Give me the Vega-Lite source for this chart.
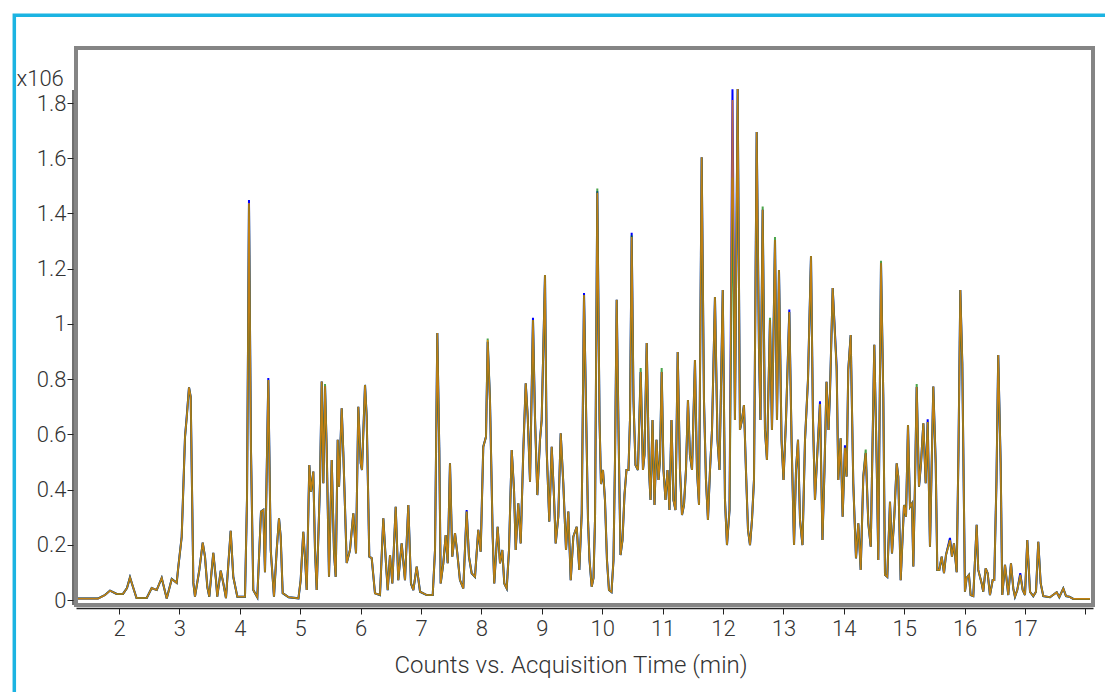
{
"$schema": "https://vega.github.io/schema/vega-lite/v6.json",
"width": 1017, "height": 557,
"autosize": {"type": "none"},
"padding": {"left": 76, "top": 48, "right": 12, "bottom": 87},
"background": "white",
"config": {"view": {"stroke": "#858585", "strokeWidth": 4}, "font": "Roboto"},
"data": {"values": [
{"t":1.321,"b":0.005,"g":0.005,"o":0.005},
{"t":1.652,"b":0.005,"g":0.005,"o":0.005},
{"t":1.714,"b":0.012,"g":0.012,"o":0.012},
{"t":1.768,"b":0.018,"g":0.018,"o":0.018},
{"t":1.851,"b":0.034,"g":0.034,"o":0.034},
{"t":1.962,"b":0.022,"g":0.022,"o":0.022},
{"t":2.066,"b":0.022,"g":0.022,"o":0.022},
{"t":2.132,"b":0.043,"g":0.043,"o":0.043},
{"t":2.182,"b":0.082,"g":0.082,"o":0.082},
{"t":2.232,"b":0.047,"g":0.047,"o":0.047},
{"t":2.290,"b":0.007,"g":0.007,"o":0.007},
{"t":2.459,"b":0.007,"g":0.007,"o":0.007},
{"t":2.541,"b":0.043,"g":0.043,"o":0.043},
{"t":2.624,"b":0.036,"g":0.036,"o":0.036},
{"t":2.707,"b":0.080,"g":0.080,"o":0.080},
{"t":2.790,"b":0.005,"g":0.005,"o":0.005},
{"t":2.873,"b":0.076,"g":0.076,"o":0.076},
{"t":2.955,"b":0.062,"g":0.062,"o":0.062},
{"t":2.982,"b":0.120,"g":0.120,"o":0.120},
{"t":3.038,"b":0.229,"g":0.229,"o":0.229},
{"t":3.093,"b":0.591,"g":0.591,"o":0.591},
{"t":3.121,"b":0.664,"g":0.660,"o":0.660},
{"t":3.159,"b":0.770,"g":0.770,"o":0.770},
{"t":3.187,"b":0.736,"g":0.736,"o":0.736},
{"t":3.231,"b":0.062,"g":0.062,"o":0.062},
{"t":3.258,"b":0.012,"g":0.012,"o":0.012},
{"t":3.330,"b":0.109,"g":0.109,"o":0.109},
{"t":3.386,"b":0.208,"g":0.208,"o":0.208},
{"t":3.424,"b":0.156,"g":0.156,"o":0.156},
{"t":3.462,"b":0.048,"g":0.048,"o":0.048},
{"t":3.495,"b":0.012,"g":0.012,"o":0.012},
{"t":3.561,"b":0.171,"g":0.171,"o":0.171},
{"t":3.606,"b":0.072,"g":0.072,"o":0.072},
{"t":3.627,"b":0.012,"g":0.012,"o":0.012},
{"t":3.684,"b":0.106,"g":0.106,"o":0.106},
{"t":3.726,"b":0.062,"g":0.062,"o":0.062},
{"t":3.771,"b":0.007,"g":0.007,"o":0.007},
{"t":3.849,"b":0.251,"g":0.251,"o":0.251},
{"t":3.892,"b":0.084,"g":0.084,"o":0.084},
{"t":3.959,"b":0.012,"g":0.012,"o":0.012},
{"t":4.086,"b":0.012,"g":0.012,"o":0.012},
{"t":4.119,"b":0.362,"g":0.362,"o":0.362},
{"t":4.152,"b":1.449,"g":1.435,"o":1.438},
{"t":4.185,"b":0.543,"g":0.543,"o":0.543},
{"t":4.223,"b":0.036,"g":0.036,"o":0.036},
{"t":4.290,"b":0.010,"g":0.010,"o":0.010},
{"t":4.351,"b":0.320,"g":0.320,"o":0.320},
{"t":4.389,"b":0.326,"g":0.326,"o":0.326},
{"t":4.417,"b":0.101,"g":0.101,"o":0.101},
{"t":4.472,"b":0.804,"g":0.797,"o":0.797},
{"t":4.512,"b":0.181,"g":0.181,"o":0.181},
{"t":4.566,"b":0.012,"g":0.012,"o":0.012},
{"t":4.611,"b":0.181,"g":0.181,"o":0.181},
{"t":4.649,"b":0.296,"g":0.296,"o":0.296},
{"t":4.677,"b":0.229,"g":0.229,"o":0.229},
{"t":4.710,"b":0.025,"g":0.025,"o":0.025},
{"t":4.809,"b":0.010,"g":0.010,"o":0.010},
{"t":4.971,"b":0.006,"g":0.006,"o":0.006},
{"t":5.008,"b":0.072,"g":0.072,"o":0.072},
{"t":5.051,"b":0.247,"g":0.247,"o":0.247},
{"t":5.085,"b":0.134,"g":0.134,"o":0.134},
{"t":5.108,"b":0.036,"g":0.036,"o":0.036},
{"t":5.151,"b":0.489,"g":0.489,"o":0.489},
{"t":5.179,"b":0.392,"g":0.392,"o":0.392},
{"t":5.217,"b":0.465,"g":0.465,"o":0.465},
{"t":5.245,"b":0.181,"g":0.181,"o":0.181},
{"t":5.273,"b":0.036,"g":0.036,"o":0.036},
{"t":5.328,"b":0.424,"g":0.424,"o":0.424},
{"t":5.356,"b":0.791,"g":0.791,"o":0.791},
{"t":5.383,"b":0.423,"g":0.423,"o":0.423},
{"t":5.411,"b":0.775,"g":0.782,"o":0.775},
{"t":5.439,"b":0.543,"g":0.543,"o":0.543},
{"t":5.477,"b":0.084,"g":0.084,"o":0.084},
{"t":5.522,"b":0.507,"g":0.507,"o":0.507},
{"t":5.560,"b":0.170,"g":0.170,"o":0.170},
{"t":5.588,"b":0.084,"g":0.084,"o":0.084},
{"t":5.621,"b":0.580,"g":0.580,"o":0.580},
{"t":5.643,"b":0.410,"g":0.410,"o":0.410},
{"t":5.687,"b":0.694,"g":0.694,"o":0.694},
{"t":5.714,"b":0.532,"g":0.532,"o":0.532},
{"t":5.770,"b":0.134,"g":0.134,"o":0.134},
{"t":5.824,"b":0.181,"g":0.181,"o":0.181},
{"t":5.879,"b":0.314,"g":0.314,"o":0.314},
{"t":5.924,"b":0.169,"g":0.169,"o":0.169},
{"t":5.962,"b":0.700,"g":0.700,"o":0.700},
{"t":6.002,"b":0.495,"g":0.495,"o":0.495},
{"t":6.023,"b":0.471,"g":0.471,"o":0.471},
{"t":6.073,"b":0.779,"g":0.779,"o":0.779},
{"t":6.101,"b":0.664,"g":0.664,"o":0.664},
{"t":6.144,"b":0.157,"g":0.157,"o":0.157},
{"t":6.184,"b":0.152,"g":0.152,"o":0.152},
{"t":6.238,"b":0.024,"g":0.024,"o":0.024},
{"t":6.321,"b":0.018,"g":0.018,"o":0.018},
{"t":6.376,"b":0.296,"g":0.296,"o":0.296},
{"t":6.420,"b":0.133,"g":0.133,"o":0.133},
{"t":6.449,"b":0.036,"g":0.036,"o":0.036},
{"t":6.487,"b":0.163,"g":0.163,"o":0.163},
{"t":6.525,"b":0.060,"g":0.060,"o":0.060},
{"t":6.581,"b":0.338,"g":0.338,"o":0.338},
{"t":6.624,"b":0.072,"g":0.072,"o":0.072},
{"t":6.680,"b":0.205,"g":0.205,"o":0.205},
{"t":6.735,"b":0.072,"g":0.072,"o":0.072},
{"t":6.790,"b":0.344,"g":0.344,"o":0.344},
{"t":6.834,"b":0.060,"g":0.060,"o":0.060},
{"t":6.873,"b":0.036,"g":0.036,"o":0.036},
{"t":6.929,"b":0.121,"g":0.121,"o":0.121},
{"t":6.984,"b":0.030,"g":0.030,"o":0.030},
{"t":7.095,"b":0.018,"g":0.018,"o":0.018},
{"t":7.194,"b":0.018,"g":0.018,"o":0.018},
{"t":7.232,"b":0.181,"g":0.181,"o":0.181},
{"t":7.270,"b":0.967,"g":0.967,"o":0.967},
{"t":7.303,"b":0.543,"g":0.543,"o":0.543},
{"t":7.326,"b":0.060,"g":0.060,"o":0.060},
{"t":7.369,"b":0.133,"g":0.133,"o":0.133},
{"t":7.409,"b":0.235,"g":0.235,"o":0.235},
{"t":7.442,"b":0.133,"g":0.133,"o":0.133},
{"t":7.480,"b":0.495,"g":0.495,"o":0.495},
{"t":7.518,"b":0.157,"g":0.157,"o":0.157},
{"t":7.563,"b":0.242,"g":0.242,"o":0.242},
{"t":7.601,"b":0.169,"g":0.169,"o":0.169},
{"t":7.645,"b":0.072,"g":0.072,"o":0.072},
{"t":7.700,"b":0.042,"g":0.042,"o":0.042},
{"t":7.756,"b":0.326,"g":0.320,"o":0.320},
{"t":7.794,"b":0.157,"g":0.157,"o":0.157},
{"t":7.839,"b":0.097,"g":0.097,"o":0.097},
{"t":7.894,"b":0.084,"g":0.084,"o":0.084},
{"t":7.948,"b":0.254,"g":0.254,"o":0.254},
{"t":7.988,"b":0.175,"g":0.175,"o":0.175},
{"t":8.031,"b":0.555,"g":0.555,"o":0.555},
{"t":8.076,"b":0.591,"g":0.591,"o":0.591},
{"t":8.104,"b":0.935,"g":0.947,"o":0.942},
{"t":8.142,"b":0.724,"g":0.724,"o":0.724},
{"t":8.187,"b":0.229,"g":0.229,"o":0.229},
{"t":8.213,"b":0.060,"g":0.060,"o":0.060},
{"t":8.269,"b":0.265,"g":0.265,"o":0.265},
{"t":8.308,"b":0.133,"g":0.133,"o":0.133},
{"t":8.346,"b":0.181,"g":0.181,"o":0.181},
{"t":8.379,"b":0.060,"g":0.060,"o":0.060},
{"t":8.419,"b":0.042,"g":0.042,"o":0.042},
{"t":8.457,"b":0.181,"g":0.181,"o":0.181},
{"t":8.502,"b":0.543,"g":0.543,"o":0.543},
{"t":8.540,"b":0.398,"g":0.398,"o":0.398},
{"t":8.568,"b":0.181,"g":0.181,"o":0.181},
{"t":8.611,"b":0.350,"g":0.350,"o":0.350},
{"t":8.651,"b":0.205,"g":0.205,"o":0.205},
{"t":8.694,"b":0.543,"g":0.543,"o":0.543},
{"t":8.734,"b":0.785,"g":0.785,"o":0.785},
{"t":8.767,"b":0.664,"g":0.664,"o":0.664},
{"t":8.805,"b":0.428,"g":0.428,"o":0.428},
{"t":8.854,"b":1.022,"g":1.014,"o":1.014},
{"t":8.887,"b":0.664,"g":0.664,"o":0.664},
{"t":8.926,"b":0.380,"g":0.380,"o":0.380},
{"t":8.970,"b":0.580,"g":0.580,"o":0.580},
{"t":8.998,"b":0.652,"g":0.652,"o":0.652},
{"t":9.053,"b":1.177,"g":1.177,"o":1.177},
{"t":9.081,"b":0.543,"g":0.543,"o":0.543},
{"t":9.124,"b":0.284,"g":0.284,"o":0.284},
{"t":9.164,"b":0.555,"g":0.555,"o":0.555},
{"t":9.202,"b":0.374,"g":0.374,"o":0.374},
{"t":9.230,"b":0.205,"g":0.205,"o":0.205},
{"t":9.273,"b":0.302,"g":0.302,"o":0.302},
{"t":9.313,"b":0.604,"g":0.604,"o":0.604},
{"t":9.356,"b":0.423,"g":0.423,"o":0.423},
{"t":9.401,"b":0.181,"g":0.181,"o":0.181},
{"t":9.439,"b":0.320,"g":0.320,"o":0.320},
{"t":9.479,"b":0.072,"g":0.072,"o":0.072},
{"t":9.522,"b":0.229,"g":0.229,"o":0.229},
{"t":9.578,"b":0.265,"g":0.265,"o":0.265},
{"t":9.621,"b":0.109,"g":0.109,"o":0.109},
{"t":9.661,"b":0.314,"g":0.314,"o":0.314},
{"t":9.699,"b":1.112,"g":1.105,"o":1.105},
{"t":9.765,"b":0.290,"g":0.290,"o":0.290},
{"t":9.790,"b":0.145,"g":0.145,"o":0.145},
{"t":9.826,"b":0.048,"g":0.048,"o":0.048},
{"t":9.856,"b":0.080,"g":0.080,"o":0.080},
{"t":9.881,"b":0.290,"g":0.290,"o":0.290},
{"t":9.919,"b":1.480,"g":1.490,"o":1.475},
{"t":9.956,"b":0.652,"g":0.652,"o":0.652},
{"t":9.980,"b":0.420,"g":0.420,"o":0.420},
{"t":10.013,"b":0.471,"g":0.471,"o":0.471},
{"t":10.046,"b":0.362,"g":0.362,"o":0.362},
{"t":10.079,"b":0.145,"g":0.145,"o":0.145},
{"t":10.112,"b":0.036,"g":0.036,"o":0.036},
{"t":10.154,"b":0.029,"g":0.029,"o":0.029},
{"t":10.187,"b":0.145,"g":0.145,"o":0.145},
{"t":10.212,"b":0.507,"g":0.507,"o":0.507},
{"t":10.240,"b":1.087,"g":1.087,"o":1.087},
{"t":10.270,"b":0.616,"g":0.616,"o":0.616},
{"t":10.303,"b":0.163,"g":0.163,"o":0.163},
{"t":10.336,"b":0.217,"g":0.217,"o":0.217},
{"t":10.369,"b":0.380,"g":0.380,"o":0.380},
{"t":10.402,"b":0.471,"g":0.471,"o":0.471},
{"t":10.435,"b":0.471,"g":0.471,"o":0.471},
{"t":10.460,"b":0.652,"g":0.652,"o":0.652},
{"t":10.488,"b":1.330,"g":1.320,"o":1.315},
{"t":10.518,"b":0.724,"g":0.724,"o":0.724},
{"t":10.551,"b":0.489,"g":0.489,"o":0.489},
{"t":10.592,"b":0.471,"g":0.471,"o":0.471},
{"t":10.637,"b":0.826,"g":0.840,"o":0.826},
{"t":10.675,"b":0.471,"g":0.471,"o":0.471},
{"t":10.700,"b":0.525,"g":0.525,"o":0.525},
{"t":10.737,"b":0.931,"g":0.931,"o":0.931},
{"t":10.775,"b":0.471,"g":0.471,"o":0.471},
{"t":10.800,"b":0.362,"g":0.362,"o":0.362},
{"t":10.833,"b":0.652,"g":0.652,"o":0.652},
{"t":10.866,"b":0.344,"g":0.344,"o":0.344},
{"t":10.899,"b":0.580,"g":0.580,"o":0.580},
{"t":10.932,"b":0.435,"g":0.435,"o":0.435},
{"t":10.957,"b":0.507,"g":0.507,"o":0.507},
{"t":10.985,"b":0.826,"g":0.840,"o":0.826},
{"t":11.015,"b":0.471,"g":0.471,"o":0.471},
{"t":11.048,"b":0.362,"g":0.362,"o":0.362},
{"t":11.081,"b":0.471,"g":0.471,"o":0.471},
{"t":11.114,"b":0.326,"g":0.326,"o":0.326},
{"t":11.147,"b":0.652,"g":0.652,"o":0.652},
{"t":11.180,"b":0.362,"g":0.362,"o":0.362},
{"t":11.213,"b":0.326,"g":0.326,"o":0.326},
{"t":11.250,"b":0.898,"g":0.898,"o":0.898},
{"t":11.288,"b":0.471,"g":0.471,"o":0.471},
{"t":11.321,"b":0.308,"g":0.308,"o":0.308},
{"t":11.354,"b":0.344,"g":0.344,"o":0.344},
{"t":11.387,"b":0.471,"g":0.471,"o":0.471},
{"t":11.420,"b":0.724,"g":0.724,"o":0.724},
{"t":11.453,"b":0.525,"g":0.525,"o":0.525},
{"t":11.487,"b":0.471,"g":0.471,"o":0.471},
{"t":11.536,"b":0.869,"g":0.869,"o":0.869},
{"t":11.569,"b":0.471,"g":0.471,"o":0.471},
{"t":11.603,"b":0.344,"g":0.344,"o":0.344},
{"t":11.647,"b":1.604,"g":1.604,"o":1.604},
{"t":11.685,"b":0.724,"g":0.724,"o":0.724},
{"t":11.718,"b":0.435,"g":0.435,"o":0.435},
{"t":11.751,"b":0.290,"g":0.290,"o":0.290},
{"t":11.785,"b":0.471,"g":0.471,"o":0.471},
{"t":11.818,"b":0.616,"g":0.616,"o":0.616},
{"t":11.867,"b":1.097,"g":1.097,"o":1.097},
{"t":11.909,"b":0.580,"g":0.580,"o":0.580},
{"t":11.942,"b":0.471,"g":0.471,"o":0.471},
{"t":11.996,"b":1.123,"g":1.123,"o":1.123},
{"t":12.033,"b":0.362,"g":0.362,"o":0.362},
{"t":12.066,"b":0.199,"g":0.199,"o":0.199},
{"t":12.108,"b":0.326,"g":0.326,"o":0.326},
{"t":12.157,"b":1.850,"g":1.530,"o":1.811},
{"t":12.198,"b":0.652,"g":0.652,"o":0.652},
{"t":12.243,"b":1.851,"g":1.851,"o":1.851},
{"t":12.281,"b":0.616,"g":0.616,"o":0.616},
{"t":12.314,"b":0.652,"g":0.652,"o":0.652},
{"t":12.347,"b":0.706,"g":0.706,"o":0.706},
{"t":12.380,"b":0.471,"g":0.471,"o":0.471},
{"t":12.414,"b":0.254,"g":0.254,"o":0.254},
{"t":12.447,"b":0.199,"g":0.199,"o":0.199},
{"t":12.480,"b":0.290,"g":0.290,"o":0.290},
{"t":12.513,"b":0.435,"g":0.435,"o":0.435},
{"t":12.558,"b":1.695,"g":1.695,"o":1.695},
{"t":12.596,"b":0.905,"g":0.905,"o":0.905},
{"t":12.620,"b":0.652,"g":0.652,"o":0.652},
{"t":12.657,"b":1.413,"g":1.425,"o":1.413},
{"t":12.695,"b":0.616,"g":0.616,"o":0.616},
{"t":12.728,"b":0.507,"g":0.507,"o":0.507},
{"t":12.778,"b":1.014,"g":1.022,"o":1.014},
{"t":12.811,"b":0.616,"g":0.616,"o":0.616},
{"t":12.861,"b":1.304,"g":1.315,"o":1.304},
{"t":12.894,"b":0.652,"g":0.652,"o":0.652},
{"t":12.927,"b":1.195,"g":1.195,"o":1.195},
{"t":12.969,"b":0.580,"g":0.580,"o":0.580},
{"t":13.002,"b":0.435,"g":0.435,"o":0.435},
{"t":13.043,"b":0.652,"g":0.652,"o":0.652},
{"t":13.098,"b":1.052,"g":1.043,"o":1.043},
{"t":13.135,"b":0.580,"g":0.580,"o":0.580},
{"t":13.176,"b":0.199,"g":0.199,"o":0.199},
{"t":13.209,"b":0.471,"g":0.471,"o":0.471},
{"t":13.242,"b":0.580,"g":0.580,"o":0.580},
{"t":13.275,"b":0.290,"g":0.290,"o":0.290},
{"t":13.316,"b":0.199,"g":0.199,"o":0.199},
{"t":13.358,"b":0.580,"g":0.580,"o":0.580},
{"t":13.407,"b":0.797,"g":0.797,"o":0.797},
{"t":13.457,"b":1.246,"g":1.246,"o":1.246},
{"t":13.490,"b":0.652,"g":0.652,"o":0.652},
{"t":13.523,"b":0.362,"g":0.362,"o":0.362},
{"t":13.556,"b":0.507,"g":0.507,"o":0.507},
{"t":13.606,"b":0.720,"g":0.710,"o":0.710},
{"t":13.647,"b":0.217,"g":0.217,"o":0.217},
{"t":13.680,"b":0.471,"g":0.471,"o":0.471},
{"t":13.714,"b":0.790,"g":0.790,"o":0.790},
{"t":13.747,"b":0.616,"g":0.616,"o":0.616},
{"t":13.771,"b":0.750,"g":0.750,"o":0.750},
{"t":13.816,"b":1.130,"g":1.130,"o":1.130},
{"t":13.882,"b":0.845,"g":0.833,"o":0.833},
{"t":13.909,"b":0.435,"g":0.435,"o":0.435},
{"t":13.948,"b":0.586,"g":0.586,"o":0.586},
{"t":13.981,"b":0.302,"g":0.302,"o":0.302},
{"t":14.019,"b":0.560,"g":0.551,"o":0.551},
{"t":14.047,"b":0.447,"g":0.447,"o":0.447},
{"t":14.074,"b":0.833,"g":0.833,"o":0.833},
{"t":14.114,"b":0.960,"g":0.960,"o":0.960},
{"t":14.157,"b":0.423,"g":0.423,"o":0.423},
{"t":14.202,"b":0.151,"g":0.151,"o":0.151},
{"t":14.240,"b":0.278,"g":0.278,"o":0.278},
{"t":14.280,"b":0.109,"g":0.109,"o":0.109},
{"t":14.323,"b":0.447,"g":0.447,"o":0.447},
{"t":14.363,"b":0.532,"g":0.545,"o":0.532},
{"t":14.406,"b":0.278,"g":0.278,"o":0.278},
{"t":14.446,"b":0.193,"g":0.193,"o":0.193},
{"t":14.505,"b":0.924,"g":0.924,"o":0.924},
{"t":14.545,"b":0.495,"g":0.495,"o":0.495},
{"t":14.571,"b":0.145,"g":0.145,"o":0.145},
{"t":14.616,"b":1.221,"g":1.229,"o":1.221},
{"t":14.654,"b":0.736,"g":0.736,"o":0.736},
{"t":14.682,"b":0.091,"g":0.091,"o":0.091},
{"t":14.720,"b":0.084,"g":0.084,"o":0.084},
{"t":14.765,"b":0.356,"g":0.356,"o":0.356},
{"t":14.798,"b":0.169,"g":0.169,"o":0.169},
{"t":14.836,"b":0.302,"g":0.302,"o":0.302},
{"t":14.876,"b":0.495,"g":0.495,"o":0.495},
{"t":14.902,"b":0.447,"g":0.447,"o":0.447},
{"t":14.942,"b":0.072,"g":0.072,"o":0.072},
{"t":14.997,"b":0.344,"g":0.344,"o":0.344},
{"t":15.030,"b":0.302,"g":0.302,"o":0.302},
{"t":15.063,"b":0.634,"g":0.634,"o":0.634},
{"t":15.096,"b":0.338,"g":0.338,"o":0.338},
{"t":15.129,"b":0.350,"g":0.350,"o":0.350},
{"t":15.151,"b":0.121,"g":0.121,"o":0.121},
{"t":15.179,"b":0.423,"g":0.423,"o":0.423},
{"t":15.207,"b":0.771,"g":0.782,"o":0.771},
{"t":15.245,"b":0.410,"g":0.410,"o":0.410},
{"t":15.278,"b":0.495,"g":0.495,"o":0.495},
{"t":15.317,"b":0.640,"g":0.640,"o":0.640},
{"t":15.356,"b":0.423,"g":0.423,"o":0.423},
{"t":15.389,"b":0.655,"g":0.645,"o":0.645},
{"t":15.427,"b":0.193,"g":0.193,"o":0.193},
{"t":15.482,"b":0.773,"g":0.773,"o":0.773},
{"t":15.522,"b":0.495,"g":0.495,"o":0.495},
{"t":15.548,"b":0.109,"g":0.109,"o":0.109},
{"t":15.581,"b":0.109,"g":0.109,"o":0.109},
{"t":15.621,"b":0.157,"g":0.157,"o":0.157},
{"t":15.659,"b":0.097,"g":0.097,"o":0.097},
{"t":15.692,"b":0.163,"g":0.163,"o":0.163},
{"t":15.758,"b":0.225,"g":0.217,"o":0.217},
{"t":15.791,"b":0.157,"g":0.157,"o":0.157},
{"t":15.824,"b":0.205,"g":0.205,"o":0.205},
{"t":15.869,"b":0.101,"g":0.101,"o":0.101},
{"t":15.899,"b":0.543,"g":0.543,"o":0.543},
{"t":15.929,"b":1.123,"g":1.123,"o":1.123},
{"t":15.962,"b":0.857,"g":0.857,"o":0.857},
{"t":16.006,"b":0.030,"g":0.030,"o":0.030},
{"t":16.034,"b":0.080,"g":0.080,"o":0.080},
{"t":16.072,"b":0.091,"g":0.091,"o":0.091},
{"t":16.100,"b":0.018,"g":0.018,"o":0.018},
{"t":16.144,"b":0.014,"g":0.014,"o":0.014},
{"t":16.200,"b":0.272,"g":0.272,"o":0.272},
{"t":16.226,"b":0.109,"g":0.109,"o":0.109},
{"t":16.283,"b":0.060,"g":0.060,"o":0.060},
{"t":16.309,"b":0.030,"g":0.030,"o":0.030},
{"t":16.349,"b":0.115,"g":0.115,"o":0.115},
{"t":16.382,"b":0.097,"g":0.097,"o":0.097},
{"t":16.420,"b":0.018,"g":0.018,"o":0.018},
{"t":16.465,"b":0.072,"g":0.072,"o":0.072},
{"t":16.491,"b":0.072,"g":0.072,"o":0.072},
{"t":16.528,"b":0.435,"g":0.435,"o":0.435},
{"t":16.557,"b":0.887,"g":0.887,"o":0.887},
{"t":16.597,"b":0.495,"g":0.495,"o":0.495},
{"t":16.624,"b":0.018,"g":0.018,"o":0.018},
{"t":16.669,"b":0.127,"g":0.127,"o":0.127},
{"t":16.697,"b":0.072,"g":0.072,"o":0.072},
{"t":16.723,"b":0.018,"g":0.018,"o":0.018},
{"t":16.768,"b":0.133,"g":0.133,"o":0.133},
{"t":16.806,"b":0.042,"g":0.042,"o":0.042},
{"t":16.834,"b":0.012,"g":0.012,"o":0.012},
{"t":16.872,"b":0.036,"g":0.036,"o":0.036},
{"t":16.922,"b":0.097,"g":0.091,"o":0.091},
{"t":16.962,"b":0.036,"g":0.036,"o":0.036},
{"t":17.000,"b":0.018,"g":0.018,"o":0.018},
{"t":17.038,"b":0.217,"g":0.217,"o":0.217},
{"t":17.083,"b":0.030,"g":0.030,"o":0.030},
{"t":17.137,"b":0.014,"g":0.014,"o":0.014},
{"t":17.182,"b":0.030,"g":0.030,"o":0.030},
{"t":17.220,"b":0.211,"g":0.211,"o":0.211},
{"t":17.260,"b":0.060,"g":0.060,"o":0.060},
{"t":17.303,"b":0.014,"g":0.014,"o":0.014},
{"t":17.414,"b":0.010,"g":0.010,"o":0.010},
{"t":17.525,"b":0.028,"g":0.028,"o":0.028},
{"t":17.568,"b":0.010,"g":0.010,"o":0.010},
{"t":17.634,"b":0.042,"g":0.042,"o":0.042},
{"t":17.679,"b":0.014,"g":0.014,"o":0.014},
{"t":17.734,"b":0.012,"g":0.012,"o":0.012},
{"t":17.800,"b":0.004,"g":0.004,"o":0.004},
{"t":18.076,"b":0.004,"g":0.004,"o":0.004}
]},
"layer": [
{"data": {"values": [{}]},
 "mark": {"type": "rect", "fill": "transparent", "stroke": "#1cb4e2", "strokeWidth": 3.5, "clip": false},
 "encoding": {
  "x": {"datum": 0.2666, "type": "quantitative", "scale": {"domain": [1.288, 18.126], "nice": false, "zero": false}},
  "x2": {"datum": 20},
  "y": {"datum": 2.118, "type": "quantitative", "scale": {"domain": [-0.0181, 1.9993], "nice": false, "zero": false}},
  "y2": {"datum": -0.5}}},
{"data": {"values": [{}]},
 "mark": {"type": "rule", "color": "#222222", "strokeWidth": 1.3, "clip": false},
 "encoding": {
  "x": {"datum": 1.2384, "type": "quantitative", "scale": {"domain": [1.288, 18.126], "nice": false, "zero": false}},
  "y": {"datum": -0.018, "type": "quantitative", "scale": {"domain": [-0.0181, 1.9993], "nice": false, "zero": false}},
  "y2": {"datum": 1.847}}},
{"mark": {"type": "line", "color": "#0000ff", "strokeWidth": 2},
 "encoding": {
  "x": {"field": "t", "type": "quantitative", "scale": {"domain": [1.288, 18.126], "nice": false, "zero": false}},
  "y": {"field": "b", "type": "quantitative", "scale": {"domain": [-0.0181, 1.9993], "nice": false, "zero": false}}}},
{"mark": {"type": "line", "color": "#008000", "strokeWidth": 2, "opacity": 0.7},
 "encoding": {
  "x": {"field": "t", "type": "quantitative", "scale": {"domain": [1.288, 18.126], "nice": false, "zero": false}},
  "y": {"field": "g", "type": "quantitative", "scale": {"domain": [-0.0181, 1.9993], "nice": false, "zero": false}}}},
{"mark": {"type": "line", "color": "#ff8c00", "strokeWidth": 1.6, "opacity": 0.75},
 "encoding": {
  "x": {"field": "t", "type": "quantitative", "scale": {"domain": [1.288, 18.126], "nice": false, "zero": false},
   "axis": {"values": [2,3,4,5,6,7,8,9,10,11,12,13,14,15,16,17,18], "format": "d", "labelExpr": "datum.value == 18 ? '' : datum.label",
    "title": "Counts vs. Acquisition Time (min)", "offset": 3, "grid": false,
    "domainColor": "#222222", "domainWidth": 1.3, "tickColor": "#222222", "tickSize": 6, "tickWidth": 1,
    "labelFont": "Roboto", "labelFontSize": 22, "labelFontWeight": 300, "labelColor": "#333333", "labelPadding": 4, "labelFlush": false,
    "titleFont": "Roboto", "titleFontSize": 24, "titleFontWeight": 300, "titleColor": "#333333",
    "titleAlign": "center", "titleBaseline": "alphabetic", "titleX": 494.5, "titleY": 64}},
  "y": {"field": "o", "type": "quantitative", "scale": {"domain": [-0.0181, 1.9993], "nice": false, "zero": false},
   "axis": {"values": [0,0.2,0.4,0.6,0.8,1,1.2,1.4,1.6,1.8], "format": "~g",
    "title": "x106", "offset": 3, "grid": false, "domain": false,
    "tickColor": "#222222", "tickSize": 6, "tickWidth": 1,
    "labelFont": "Roboto", "labelFontSize": 22, "labelFontWeight": 300, "labelColor": "#333333", "labelPadding": 1, "labelFlush": false,
    "titleFont": "Roboto", "titleFontSize": 22, "titleFontWeight": 300, "titleColor": "#333333",
    "titleAngle": 0, "titleAlign": "left", "titleBaseline": "alphabetic", "titleX": -57, "titleY": 37}}}}
]
}
